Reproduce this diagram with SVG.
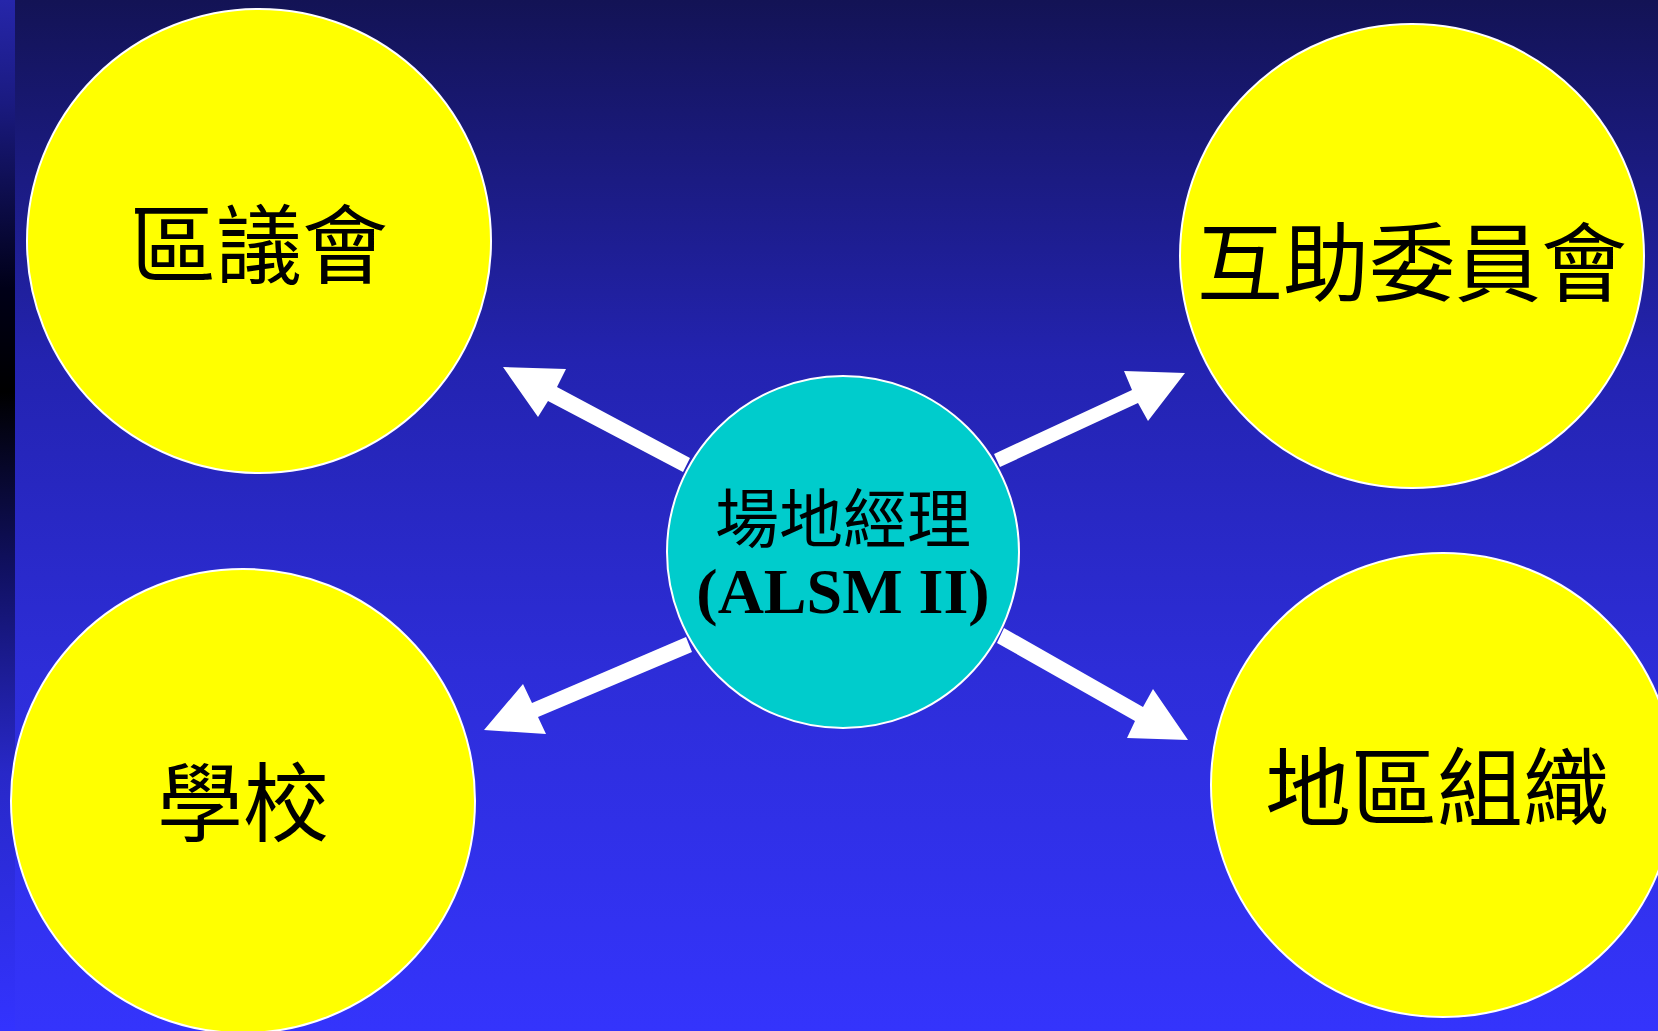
<svg xmlns="http://www.w3.org/2000/svg" width="1658" height="1031" viewBox="0 0 1658 1031">
<defs>
<linearGradient id="bg" x1="0" y1="0" x2="0" y2="1">
<stop offset="0" stop-color="#131355"/>
<stop offset="0.35" stop-color="#2323b0"/>
<stop offset="0.65" stop-color="#2d2dd8"/>
<stop offset="1" stop-color="#3434fc"/>
</linearGradient>
<linearGradient id="strip" x1="0" y1="0" x2="0" y2="1">
<stop offset="0" stop-color="#2626aa"/>
<stop offset="0.1" stop-color="#1a1a80"/>
<stop offset="0.28" stop-color="#000018"/>
<stop offset="0.38" stop-color="#000000"/>
<stop offset="0.55" stop-color="#101060"/>
<stop offset="0.75" stop-color="#2828c8"/>
<stop offset="1" stop-color="#3333ff"/>
</linearGradient>
</defs>
<style>
.yc{fill:#ffff00;stroke:#ffffff;stroke-width:2}
.cc{fill:#00cccc;stroke:#ffffff;stroke-width:2}
.cjk{font-family:"Liberation Serif","Noto Sans CJK TC",serif;fill:#000000;text-anchor:middle}
.big{font-size:86px}
.mid{font-size:64px}
.lat{font-family:"Liberation Serif",serif;font-weight:bold;font-size:64px;fill:#000000;text-anchor:middle}
.arr{fill:#ffffff}
</style>
<rect x="0" y="0" width="1658" height="1031" fill="url(#bg)"/>
<rect x="0" y="0" width="15" height="1031" fill="url(#strip)"/>
<g id="node-district-council">
<circle class="yc" cx="259" cy="241" r="232"/>
<text class="cjk big" x="259" y="277">區議會</text>
</g>
<g id="node-school">
<circle class="yc" cx="243" cy="801" r="232"/>
<text class="cjk big" x="243" y="835">學校</text>
</g>
<g id="node-mutual-aid">
<circle class="yc" cx="1412" cy="256" r="232"/>
<text class="cjk big" x="1412" y="295">互助委員會</text>
</g>
<g id="node-local-org">
<circle class="yc" cx="1443" cy="785" r="232"/>
<text class="cjk big" x="1437" y="820">地區組織</text>
</g>
<g id="connectors">
<polygon class="arr" points="503,367 566,369 557,387 690,458 683,472 548,401 538,417"/>
<polygon class="arr" points="484,730 523,684 532,703 686,637 692,652 538,717 546,734"/>
<polygon class="arr" points="1185,373 1148,421 1138,403 1000,467 994,454 1132,390 1124,371"/>
<polygon class="arr" points="1188,740 1127,738 1135,721 997,643 1004,628 1143,707 1153,689"/>
</g>
<g id="node-venue-manager">
<circle class="cc" cx="843" cy="552" r="176"/>
<text class="cjk mid" x="843" y="542">場地經理</text>
<text class="lat" x="843" y="613">(ALSM II)</text>
</g>
</svg>
